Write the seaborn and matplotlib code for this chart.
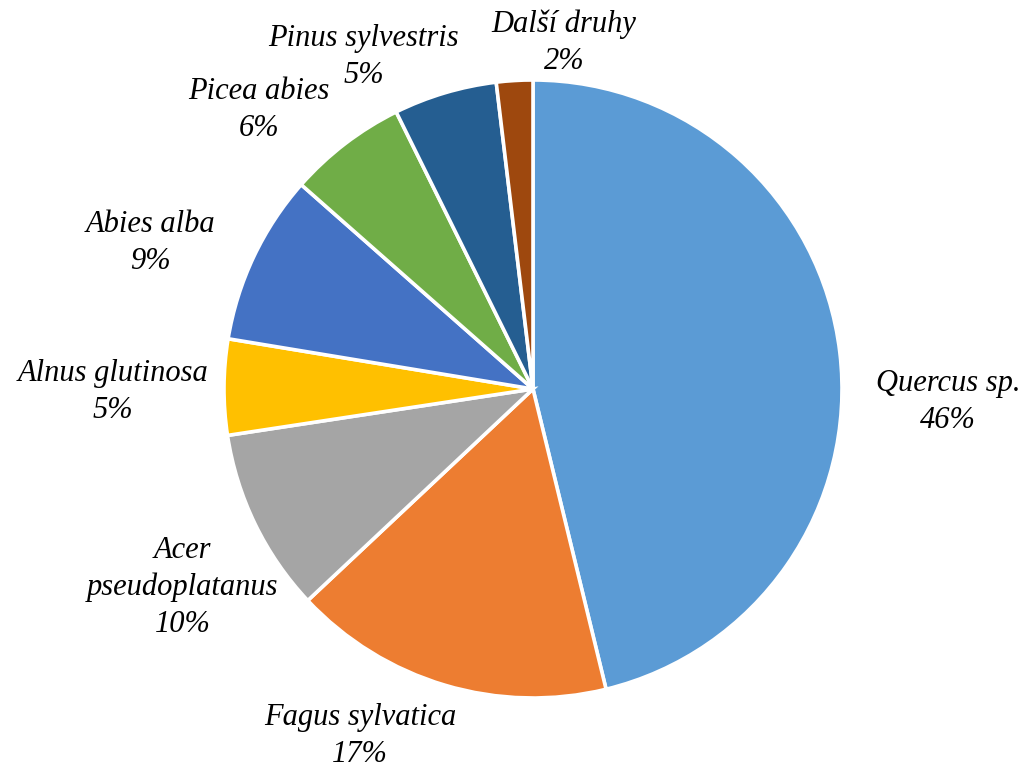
import matplotlib.pyplot as plt
import seaborn as sns

species = ['Quercus sp.', 'Fagus sylvatica', 'Acer\npseudoplatanus', 'Alnus glutinosa',
           'Abies alba', 'Picea abies', 'Pinus sylvestris', 'Další druhy']
shares = [46.2, 16.8, 9.6, 5.0, 8.9, 6.2, 5.4, 1.9]
colors = ['#5B9BD5', '#ED7D31', '#A5A5A5', '#FFC000',
          '#4472C4', '#70AD47', '#255E91', '#9E480E']

# label centres, in units of the pie radius
label_xy = [(1.343, -0.042), (-0.560, -1.123), (-1.133, -0.641), (-1.359, -0.010),
            (-1.239, 0.472), (-0.887, 0.903), (-0.547, 1.074), (0.100, 1.120)]

sns.set_theme(style='white')
plt.rcParams['font.family'] = ['Liberation Serif', 'DejaVu Serif']

fig = plt.figure(figsize=(10.31, 7.71), dpi=100)
ax = fig.add_axes([0, 0, 1, 1])

ax.pie(shares, colors=colors, startangle=90, counterclock=False, radius=1,
       wedgeprops=dict(edgecolor='white', linewidth=2.6))

for name, val, (x, y) in zip(species, shares, label_xy):
    ax.text(x, y, f'{name}\n{val:.0f}%', ha='center', va='center', color='black',
            fontsize=22, fontstyle='italic', linespacing=1.35)

ax.set_xlim(-533 / 309, (1031 - 533) / 309)
ax.set_ylim(-(771 - 389) / 309, 389 / 309)
ax.set_aspect('equal')
ax.axis('off')

fig.savefig('out.png', dpi=100)
